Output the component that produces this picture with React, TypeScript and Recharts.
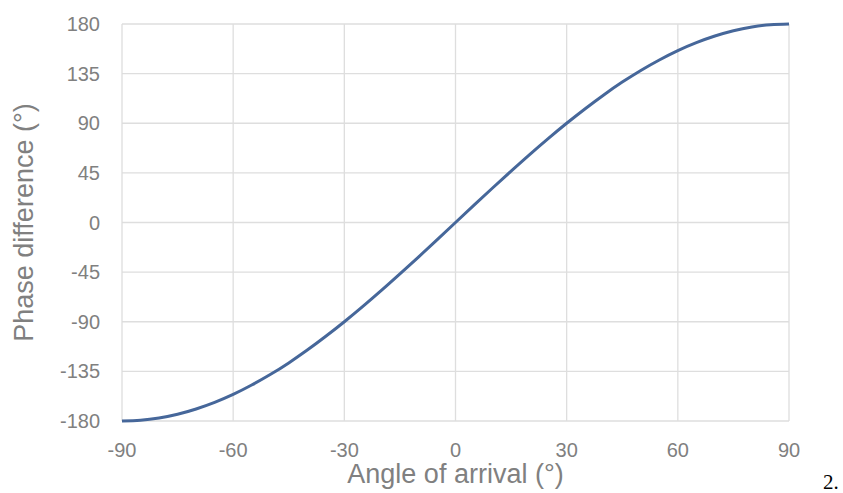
import { CartesianGrid, Line, LineChart, XAxis, YAxis } from "recharts"

const angles = [
  -90, -85, -80, -75, -70, -65, -60, -55, -50, -45, -40, -35, -30, -25, -20, -15, -10, -5, 0, 5, 10, 15, 20, 25, 30, 35,
  40, 45, 50, 55, 60, 65, 70, 75, 80, 85, 90,
]
const phaseDiff = [
  -180, -179.3, -177.3, -173.9, -169.1, -163.1, -155.9, -147.4, -137.9, -127.3, -115.7, -103.2, -90, -76.1, -61.6,
  -46.6, -31.3, -15.7, 0, 15.7, 31.3, 46.6, 61.6, 76.1, 90, 103.2, 115.7, 127.3, 137.9, 147.4, 155.9, 163.1, 169.1,
  173.9, 177.3, 179.3, 180,
]
const xTicks = [-90, -60, -30, 0, 30, 60, 90]
const yTicks = [-180, -135, -90, -45, 0, 45, 90, 135, 180]

const data = angles.map((a, i) => ({ angle: a, phase: phaseDiff[i] }))

const gray = "#808080"
const font = "'Liberation Sans', Arial, sans-serif"

export default function App() {
  return (
    <div style={{ position: "absolute", left: 0, top: 0, width: 843, height: 493, background: "#fff" }}>
      <LineChart width={843} height={493} data={data} margin={{ top: 24, right: 54, bottom: 0, left: 0 }}>
        <CartesianGrid stroke="#dedede" strokeWidth={1.3} />
        <XAxis
          type="number"
          dataKey="angle"
          domain={[-90, 90]}
          ticks={xTicks}
          height={72}
          axisLine={false}
          tickLine={false}
          tickSize={0}
          tickMargin={22}
          tick={{ fill: gray, fontSize: 20, fontFamily: font }}
          label={{
            value: "Angle of arrival (°)",
            position: "insideBottom",
            offset: 10,
            fill: gray,
            fontSize: 27,
            fontFamily: font,
          }}
        />
        <YAxis
          type="number"
          domain={[-180, 180]}
          ticks={yTicks}
          width={122}
          axisLine={false}
          tickLine={false}
          tickSize={0}
          tickMargin={22}
          tick={{ fill: gray, fontSize: 20, fontFamily: font }}
          label={{
            value: "Phase difference (°)",
            angle: -90,
            position: "insideLeft",
            offset: 23,
            textAnchor: "middle",
            fill: gray,
            fontSize: 27,
            fontFamily: font,
          }}
        />
        <Line
          type="natural"
          dataKey="phase"
          stroke="#46679a"
          strokeWidth={3}
          dot={false}
          isAnimationActive={false}
        />
      </LineChart>
      <div
        style={{
          position: "absolute",
          left: 823,
          top: 473,
          lineHeight: "18px",
          fontFamily: "'Liberation Serif', 'Times New Roman', serif",
          fontSize: 21,
          color: "#000",
        }}
      >
        2.
      </div>
    </div>
  )
}
